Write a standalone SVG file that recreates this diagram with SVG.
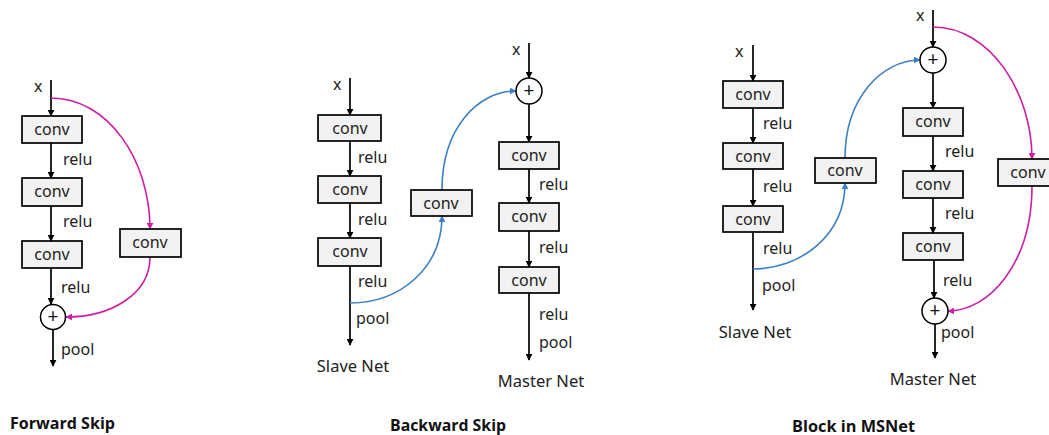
<svg xmlns="http://www.w3.org/2000/svg" width="1049" height="435" viewBox="0 0 1049 435">
  <style>
    .box { fill: #F2F2F2; stroke: #000; stroke-width: 1.7; }
    .sum { fill: #fff; stroke: #000; stroke-width: 1.5; }
    .lbl { font-family: "Noto Sans", "Open Sans", sans-serif; font-size: 16px; fill: #222; }
    .plus { font-family: "Noto Sans", "Open Sans", sans-serif; font-size: 19px; fill: #111; text-anchor: middle; }
    .net { font-size: 16.5px; }
    .ctr { text-anchor: middle; }
    .title { font-family: "Open Sans", "Liberation Sans", sans-serif; font-size: 16px; font-weight: bold; fill: #111; }
    .flow { fill: none; stroke: #000; stroke-width: 1.7; marker-end: url(#ah); }
    .skipF { fill: none; stroke: #CC1FA3; stroke-width: 1.6; marker-end: url(#ahM); }
    .skipB { fill: none; stroke: #3B80C4; stroke-width: 1.6; marker-end: url(#ahB); }
  </style>
  <defs>
    <marker id="ah" viewBox="0 0 10 10" refX="9" refY="5" markerWidth="7" markerHeight="7" markerUnits="userSpaceOnUse" orient="auto">
      <path d="M0,0 L10,5 L0,10 Z" fill="#000"/>
    </marker>
    <marker id="ahM" viewBox="0 0 10 10" refX="9" refY="5" markerWidth="7" markerHeight="7" markerUnits="userSpaceOnUse" orient="auto">
      <path d="M0,0 L10,5 L0,10 Z" fill="#CC1FA3"/>
    </marker>
    <marker id="ahB" viewBox="0 0 10 10" refX="9" refY="5" markerWidth="7" markerHeight="7" markerUnits="userSpaceOnUse" orient="auto">
      <path d="M0,0 L10,5 L0,10 Z" fill="#3B80C4"/>
    </marker>
  </defs>
  <rect width="1049" height="435" fill="#fff"/>

  <!-- connectors -->
  <g id="connectors">
    <!-- Forward Skip -->
    <path class="flow" d="M51,80 V116"/>
    <path class="flow" d="M51,143 V178"/>
    <path class="flow" d="M51,206 V241"/>
    <path class="flow" d="M51,268 V304"/>
    <path class="flow" d="M53,330 V366"/>
    <path class="skipF" d="M51,98 C108,98 150,160 150,229"/>
    <path class="skipF" d="M150,257 C150,295 110,317 66,317"/>

    <!-- Backward Skip: slave -->
    <path class="flow" d="M350,78 V115"/>
    <path class="flow" d="M350,141 V176"/>
    <path class="flow" d="M350,203 V238"/>
    <path class="flow" d="M350,266 V345"/>
    <!-- Backward Skip: master -->
    <path class="flow" d="M529,43 V78"/>
    <path class="flow" d="M529,104 V142"/>
    <path class="flow" d="M529,169 V203"/>
    <path class="flow" d="M529,231 V267"/>
    <path class="flow" d="M529,293 V360"/>
    <path class="skipB" d="M350,303 C400,303 442,268 442,216"/>
    <path class="skipB" d="M442,190 C442,128 478,91 516,91"/>

    <!-- Block in MSNet: slave -->
    <path class="flow" d="M753,45 V81"/>
    <path class="flow" d="M753,108 V143"/>
    <path class="flow" d="M753,169 V206"/>
    <path class="flow" d="M753,232 V310"/>
    <!-- Block in MSNet: master -->
    <path class="flow" d="M933,10 V47"/>
    <path class="flow" d="M933,73 V108"/>
    <path class="flow" d="M933,136 V171"/>
    <path class="flow" d="M933,198 V233"/>
    <path class="flow" d="M934,260 V298"/>
    <path class="flow" d="M935,324 V358"/>
    <path class="skipB" d="M753,269 C800,269 845,236 845,183"/>
    <path class="skipB" d="M845,158 C845,98 882,60 920,60"/>
    <path class="skipF" d="M933,27 C990,27 1032,92 1032,159"/>
    <path class="skipF" d="M1032,186 C1032,262 990,311 948,311"/>
  </g>

  <!-- Forward Skip -->
  <g id="fs-x"><text class="lbl" x="34" y="92">x</text></g>
  <g id="fs-conv1"><rect class="box" x="22" y="116" width="60" height="27"/><text class="lbl ctr" x="52" y="135">conv</text></g>
  <g id="fs-conv2"><rect class="box" x="22" y="178" width="60" height="28"/><text class="lbl ctr" x="52" y="197">conv</text></g>
  <g id="fs-conv3"><rect class="box" x="22" y="241" width="60" height="27"/><text class="lbl ctr" x="52" y="260">conv</text></g>
  <g id="fs-skipconv"><rect class="box" x="120" y="229" width="61" height="28"/><text class="lbl ctr" x="150" y="248">conv</text></g>
  <g id="fs-sum"><circle class="sum" cx="53" cy="317" r="12.5"/><text class="plus" x="53" y="323">+</text></g>
  <g id="fs-labels">
    <text class="lbl" x="63" y="165">relu</text>
    <text class="lbl" x="63" y="227">relu</text>
    <text class="lbl" x="61" y="293">relu</text>
    <text class="lbl" x="61" y="355">pool</text>
  </g>

  <!-- Backward Skip -->
  <g id="bs-slave-x"><text class="lbl" x="333" y="90">x</text></g>
  <g id="bs-slave-conv1"><rect class="box" x="318" y="115" width="63" height="26"/><text class="lbl ctr" x="350" y="134">conv</text></g>
  <g id="bs-slave-conv2"><rect class="box" x="318" y="176" width="63" height="27"/><text class="lbl ctr" x="350" y="195">conv</text></g>
  <g id="bs-slave-conv3"><rect class="box" x="318" y="238" width="63" height="28"/><text class="lbl ctr" x="350" y="257">conv</text></g>
  <g id="bs-slave-labels">
    <text class="lbl" x="358" y="163">relu</text>
    <text class="lbl" x="358" y="225">relu</text>
    <text class="lbl" x="358" y="287">relu</text>
    <text class="lbl" x="356" y="324">pool</text>
    <text class="lbl net ctr" x="353" y="372">Slave Net</text>
  </g>
  <g id="bs-mid-conv"><rect class="box" x="411" y="190" width="61" height="26"/><text class="lbl ctr" x="441" y="209">conv</text></g>
  <g id="bs-master-x"><text class="lbl" x="512" y="55">x</text></g>
  <g id="bs-master-sum"><circle class="sum" cx="529" cy="91" r="13"/><text class="plus" x="529" y="97">+</text></g>
  <g id="bs-master-conv1"><rect class="box" x="499" y="142" width="60" height="27"/><text class="lbl ctr" x="529" y="161">conv</text></g>
  <g id="bs-master-conv2"><rect class="box" x="499" y="203" width="60" height="28"/><text class="lbl ctr" x="529" y="222">conv</text></g>
  <g id="bs-master-conv3"><rect class="box" x="499" y="267" width="60" height="26"/><text class="lbl ctr" x="529" y="286">conv</text></g>
  <g id="bs-master-labels">
    <text class="lbl" x="539" y="190">relu</text>
    <text class="lbl" x="539" y="253">relu</text>
    <text class="lbl" x="539" y="320">relu</text>
    <text class="lbl" x="539" y="348">pool</text>
    <text class="lbl net ctr" x="541" y="387">Master Net</text>
  </g>

  <!-- Block in MSNet -->
  <g id="ms-slave-x"><text class="lbl" x="735" y="57">x</text></g>
  <g id="ms-slave-conv1"><rect class="box" x="723" y="81" width="60" height="27"/><text class="lbl ctr" x="753" y="100">conv</text></g>
  <g id="ms-slave-conv2"><rect class="box" x="723" y="143" width="60" height="26"/><text class="lbl ctr" x="753" y="162">conv</text></g>
  <g id="ms-slave-conv3"><rect class="box" x="723" y="206" width="60" height="26"/><text class="lbl ctr" x="753" y="225">conv</text></g>
  <g id="ms-slave-labels">
    <text class="lbl" x="763" y="129">relu</text>
    <text class="lbl" x="763" y="192">relu</text>
    <text class="lbl" x="763" y="254">relu</text>
    <text class="lbl" x="762" y="291">pool</text>
    <text class="lbl net ctr" x="755" y="338">Slave Net</text>
  </g>
  <g id="ms-mid-conv"><rect class="box" x="815" y="158" width="61" height="25"/><text class="lbl ctr" x="845" y="176">conv</text></g>
  <g id="ms-master-x"><text class="lbl" x="916" y="21">x</text></g>
  <g id="ms-master-sum1"><circle class="sum" cx="933" cy="60" r="13"/><text class="plus" x="933" y="66">+</text></g>
  <g id="ms-master-conv1"><rect class="box" x="903" y="108" width="60" height="28"/><text class="lbl ctr" x="933" y="127">conv</text></g>
  <g id="ms-master-conv2"><rect class="box" x="903" y="171" width="60" height="27"/><text class="lbl ctr" x="933" y="190">conv</text></g>
  <g id="ms-master-conv3"><rect class="box" x="903" y="233" width="60" height="27"/><text class="lbl ctr" x="933" y="252">conv</text></g>
  <g id="ms-master-sum2"><circle class="sum" cx="935" cy="311" r="13"/><text class="plus" x="935" y="317">+</text></g>
  <g id="ms-master-labels">
    <text class="lbl" x="945" y="157">relu</text>
    <text class="lbl" x="945" y="219">relu</text>
    <text class="lbl" x="943" y="286">relu</text>
    <text class="lbl" x="941" y="338">pool</text>
    <text class="lbl net ctr" x="933" y="385">Master Net</text>
  </g>
  <g id="ms-skip-conv"><rect class="box" x="998" y="159" width="60" height="27"/><text class="lbl ctr" x="1028" y="178">conv</text></g>

  <!-- captions -->
  <g id="captions">
    <text class="title" x="10" y="429" textLength="105" lengthAdjust="spacingAndGlyphs">Forward Skip</text>
    <text class="title" x="390" y="431" textLength="116" lengthAdjust="spacingAndGlyphs">Backward Skip</text>
    <text class="title" x="792" y="432" textLength="123" lengthAdjust="spacingAndGlyphs">Block in MSNet</text>
  </g>
</svg>
